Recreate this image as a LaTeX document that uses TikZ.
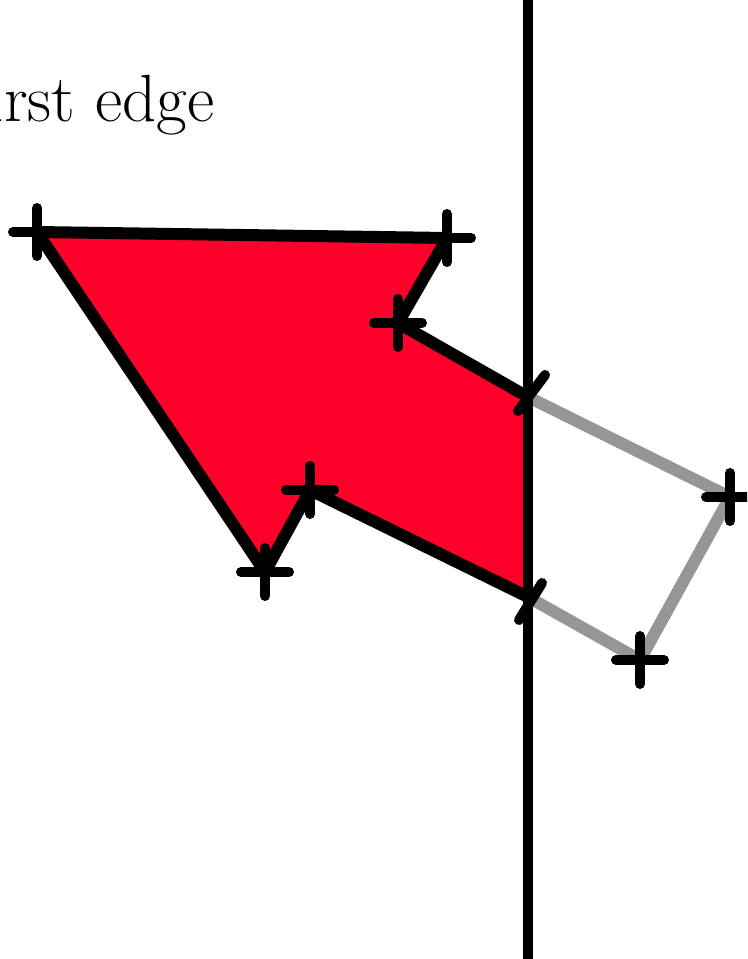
\documentclass[tikz,border=0pt]{standalone}
\usepackage{tikz}
\usetikzlibrary{calc}
\definecolor{clipred} {RGB}{255,0,43}
\definecolor{cutgray} {RGB}{150,150,150}
\tikzset{
  keptedge/.style ={draw=black, line width=0.24cm, line join=round},
  cutedge/.style  ={draw=cutgray, line width=0.24cm, line join=round},
  clipline/.style ={draw=black, line width=0.20cm},
  crossmark/.style={draw=black, line width=0.20cm, line cap=round},
  tickmark/.style ={draw=black, line width=0.20cm, line cap=round},
  label/.style    ={font=\fontsize{38}{44}\selectfont, inner sep=0pt},
}
\begin{document}
\begin{tikzpicture}[x=0.02cm, y=-0.02cm]
  \useasboundingbox (0,0) rectangle (747,959);
  \clip (0,0) rectangle (747,959);
  % vertices of the polygon
  \coordinate (A) at (37,232);
  \coordinate (B) at (447,238);
  \coordinate (C) at (398,323);
  \coordinate (D) at (528,397);
  \coordinate (E) at (730,497);
  \coordinate (F) at (640,660);
  \coordinate (G) at (528,597);
  \coordinate (H) at (310,490);
  \coordinate (I) at (265,572);
  \coordinate (top) at (528,0);
  \coordinate (bot) at (528,959);
  \node[label, anchor=base east] (lbl) at (215,122) {first edge};
  % clipped part
  \fill[clipred] (A) -- (B) -- (C) -- (D) -- (G) -- (H) -- (I) -- cycle;
  \draw[cutedge] (D) -- (E) -- (F) -- (G);
  \draw[keptedge] (G) -- (H) -- (I) -- (A) -- (B) -- (C) -- (D);
  \draw[clipline] (top) -- (bot);
  % markers
  \foreach \v in {A,B,C,E,F,H,I}
    \draw[crossmark, shift={(\v)}] (-24,0) -- (24,0) (0,-24) -- (0,24);
  \draw[tickmark, shift={(D)}] (17,-22) -- (-10,14);
  \draw[tickmark, shift={(G)}] (14,-14) -- (-9,23);
\end{tikzpicture}
\end{document}
